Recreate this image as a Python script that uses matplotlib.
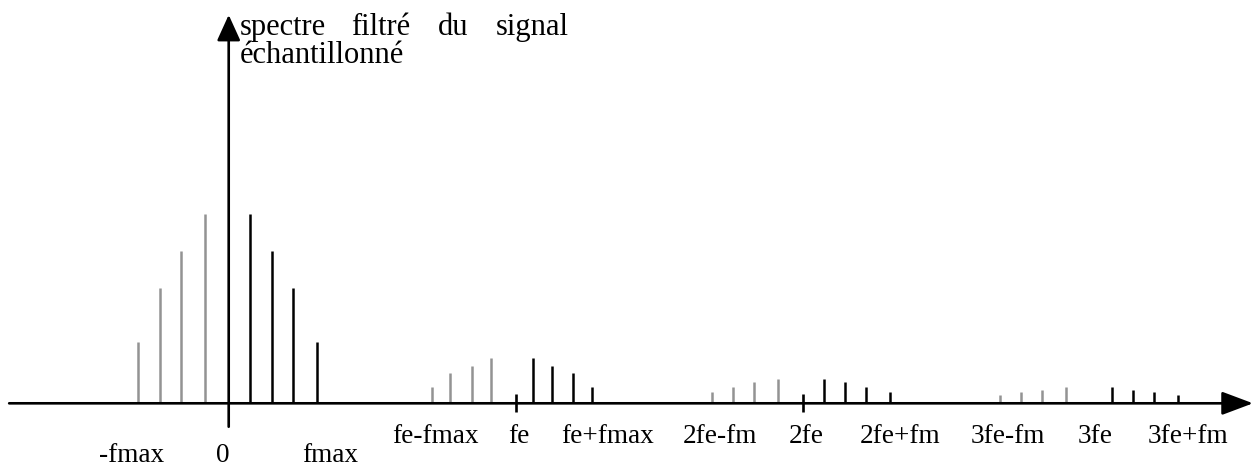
import matplotlib
matplotlib.use("Agg")
import matplotlib.pyplot as plt

plt.rcParams["font.family"] = ["Liberation Serif", "DejaVu Serif"]

# frequencies in units of fe, amplitudes relative to the biggest line
black_f = [0.074, 0.150, 0.224, 0.309,
           1.061, 1.126, 1.200, 1.265,
           2.074, 2.147, 2.222, 2.305,
           3.078, 3.151, 3.225, 3.309]
black_a = [1.0, 0.804, 0.608, 0.323,
           0.242, 0.198, 0.160, 0.086,
           0.129, 0.114, 0.086, 0.058,
           0.086, 0.072, 0.058, 0.044]
gray_f = [-0.315, -0.240, -0.166, -0.082,
          0.707, 0.772, 0.848, 0.913,
          1.683, 1.758, 1.831, 1.915,
          2.687, 2.761, 2.835, 2.918]
gray_a = [0.323, 0.608, 0.804, 1.0,
          0.086, 0.160, 0.198, 0.242,
          0.058, 0.086, 0.114, 0.129,
          0.044, 0.058, 0.072, 0.086]

tick_f = [1.0, 2.0]

low_labels = ["-fmax", "0", "fmax"]
low_pos = [-0.340, -0.020, 0.353]
high_labels = ["fe-fmax", "fe", "fe+fmax", "2fe-fm", "2fe", "2fe+fm",
               "3fe-fm", "3fe", "3fe+fm"]
high_pos = [0.721, 1.010, 1.320, 1.712, 2.014, 2.338, 2.715, 3.018, 3.342]

title_words = ["spectre", "filtré", "du", "signal"]
title_pos = [0.039, 0.425, 0.730, 0.930]

fig = plt.figure(figsize=(12.54, 4.66), dpi=100)
ax = fig.add_axes([0, 0, 1, 1])
ax.set_xlim(-0.7969, 3.5725)
ax.set_ylim(-0.3317, 2.1339)
ax.axis("off")

ax.vlines(gray_f, 0, gray_a, colors="#939393", lw=1.8)
ax.vlines(black_f, 0, black_a, colors="black", lw=1.8)

# axes with arrow heads
ax.annotate("", xy=(3.569, 0), xytext=(-0.765, 0),
            arrowprops=dict(arrowstyle="-|>,head_length=0.8,head_width=0.3",
                            mutation_scale=24, lw=1.9, color="black",
                            shrinkA=0, shrinkB=0))
ax.annotate("", xy=(0, 2.055), xytext=(0, -0.124),
            arrowprops=dict(arrowstyle="-|>,head_length=0.66,head_width=0.3",
                            mutation_scale=24, lw=1.9, color="black",
                            shrinkA=0, shrinkB=0))
ax.vlines(tick_f, -0.047, 0.047, colors="black", lw=1.9)

for lab, x in zip(low_labels, low_pos):
    ax.text(x, -0.313, lab, ha="center", va="baseline", fontsize=19.6)
for lab, x in zip(high_labels, high_pos):
    ax.text(x, -0.210, lab, ha="center", va="baseline", fontsize=19.6)

for w, x in zip(title_words, title_pos):
    ax.text(x, 1.950, w, ha="left", va="baseline", fontsize=22)
ax.text(0.039, 1.800, "échantillonné", ha="left", va="baseline", fontsize=22)

fig.savefig("out.png", dpi=100)
